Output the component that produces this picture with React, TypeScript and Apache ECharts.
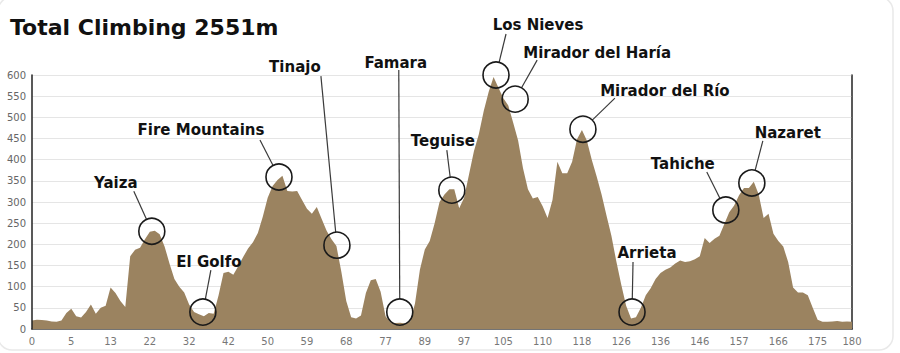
import React, { useEffect, useRef } from "react";
import * as echarts from "echarts";

// Distance tick labels (km) shown under the profile, and the sample index each sits on
const distanceLabels = ["0", "5", "13", "22", "32", "42", "50", "59", "68", "77", "89", "97", "105", "110", "118", "126", "136", "146", "157", "166", "175", "180"];
const distanceLabelIndex = [0, 8, 16, 24, 32, 40, 48, 56, 64, 72, 80, 88, 96, 104, 112, 120, 128, 136, 144, 152, 160, 167];

// Elevation profile (m), one value per sample
const elevation = [
  20, 22, 21, 20, 18, 17, 20, 38, 48, 30,
  27, 40, 58, 36, 50, 55, 98, 85, 66, 52,
  172, 187, 192, 212, 230, 232, 224, 195, 155, 118,
  100, 86, 58, 40, 35, 30, 38, 36, 80, 132,
  135, 128, 148, 170, 190, 205, 227, 265, 310, 338,
  352, 362, 326, 325, 326, 305, 284, 272, 288, 260,
  232, 212, 196, 135, 66, 28, 25, 32, 85, 115,
  118, 88, 30, 16, 14, 15, 13, 18, 60, 140,
  188, 208, 250, 300, 318, 330, 330, 285, 310, 365,
  420, 460, 515, 560, 595, 570, 545, 528, 487, 445,
  380, 330, 308, 312, 290, 262, 305, 395, 368, 368,
  395, 448, 470, 445, 400, 360, 318, 268, 220, 160,
  105, 55, 25, 28, 50, 80, 96, 118, 132, 140,
  145, 155, 162, 158, 160, 165, 172, 215, 203, 213,
  220, 248, 276, 292, 316, 333, 333, 348, 318, 262,
  272, 225, 208, 195, 158, 98, 86, 86, 80, 50,
  22, 17, 17, 18, 19, 17, 18, 17,
];

// Place names and where their circles sit on the profile (sample index, elevation)
const placeNames = ["Yaiza", "El Golfo", "Fire Mountains", "Tinajo", "Famara", "Teguise", "Los Nieves", "Mirador del Haría", "Mirador del Río", "Arrieta", "Tahiche", "Nazaret"];
const placeIndex = [24.4, 34.8, 50.3, 62.1, 74.9, 85.5, 94.5, 98.4, 112.2, 122.2, 141.3, 146.6];
const placeElevation = [231, 40, 359, 198, 40, 328, 600, 543, 472, 40, 281, 345];

// Label layout relative to circle centre (px): label centre offset, leader start offset
const labelOffset: [number, number][] = [
  [-36, -48], [6, -50], [-78, -47], [-42, -178], [-4, -249], [-9, -49],
  [42, -50], [82, -46], [82, -38], [15, -59], [-43, -46], [36, -50],
];
const leaderOffset: [number, number][] = [
  [-18, -40], [8, -42], [-19, -37], [-16, -169], [-1, -242], [-5, -40],
  [10, -41], [22, -39], [32, -31], [1, -50], [-19, -38], [11, -42],
];

const FILL = "#9b8360";
const FONT = "DejaVu Sans";

export default function App() {
  const ref = useRef<HTMLDivElement>(null);

  useEffect(() => {
    if (!ref.current) return;
    const chart = echarts.init(ref.current, undefined, { renderer: "svg" });
    const categories = elevation.map((_, i) => String(i));
    const labelMap: Record<number, string> = {};
    distanceLabelIndex.forEach((idx, k) => (labelMap[idx] = distanceLabels[k]));

    chart.setOption({
      animation: false,
      backgroundColor: "#ffffff",
      title: {
        text: "Total Climbing 2551m",
        left: 10,
        top: 16,
        padding: 0,
        textStyle: { fontFamily: FONT, fontWeight: "bold", fontSize: 22, color: "#111" },
      },
      grid: { left: 32, right: 48, top: 75, bottom: 24, containLabel: false },
      xAxis: {
        type: "category",
        data: categories,
        boundaryGap: false,
        axisLine: { show: true, lineStyle: { color: "#222", width: 1.5 } },
        axisTick: { show: false },
        splitLine: { show: false },
        axisLabel: {
          interval: (idx: number) => labelMap[idx] !== undefined,
          formatter: (_v: string, idx: number) => labelMap[idx] ?? "",
          color: "#777",
          fontSize: 10,
          fontFamily: FONT,
          margin: 7,
        },
      },
      yAxis: [
        {
          type: "value",
          min: 0,
          max: 600,
          interval: 50,
          z: 3,
          axisLine: { show: true, lineStyle: { color: "#222", width: 1.5 } },
          axisTick: { show: false },
          axisLabel: { color: "#666", fontSize: 10, fontFamily: FONT, margin: 6 },
          splitLine: { show: true, lineStyle: { color: "rgba(175,175,175,0.32)", width: 1 } },
        },
        {
          type: "value",
          position: "right",
          min: 0,
          max: 600,
          interval: 50,
          axisLine: { show: true, lineStyle: { color: "#222", width: 1.5 } },
          axisTick: { show: false },
          axisLabel: { show: false },
          splitLine: { show: false },
        },
      ],
      series: [
        {
          type: "line",
          data: elevation,
          showSymbol: false,
          symbol: "none",
          lineStyle: { width: 0 },
          areaStyle: { color: FILL, opacity: 1 },
          silent: true,
        },
      ],
    });

    const n = elevation.length;
    const toPx = (idx: number, v: number) => {
      const a = chart.convertToPixel({ gridIndex: 0 }, [0, v]) as number[];
      const b = chart.convertToPixel({ gridIndex: 0 }, [n - 1, v]) as number[];
      return [a[0] + ((b[0] - a[0]) * idx) / (n - 1), a[1]];
    };
    const R = 13;
    const elements: any[] = [
      {
        type: "rect",
        z: 0,
        shape: { x: -2, y: -3, width: 895, height: 353, r: 14 },
        style: { fill: "rgba(0,0,0,0)", stroke: "#e9e9e9", lineWidth: 1.5 },
        silent: true,
      },
    ];
    placeNames.forEach((name, i) => {
      const [cx, cy] = toPx(placeIndex[i], placeElevation[i]);
      const sx = cx + leaderOffset[i][0];
      const sy = cy + leaderOffset[i][1];
      const dx = sx - cx;
      const dy = sy - cy;
      const len = Math.sqrt(dx * dx + dy * dy) || 1;
      elements.push({
        type: "line",
        z: 10,
        shape: { x1: sx, y1: sy, x2: cx + (dx / len) * R, y2: cy + (dy / len) * R },
        style: { stroke: "#3a3a3a", lineWidth: 1.2 },
        silent: true,
      });
      elements.push({
        type: "circle",
        z: 10,
        shape: { cx, cy, r: R },
        style: { fill: "rgba(0,0,0,0)", stroke: "#1a1a1a", lineWidth: 1.6 },
        silent: true,
      });
      elements.push({
        type: "text",
        z: 10,
        style: {
          text: name,
          x: cx + labelOffset[i][0],
          y: cy + labelOffset[i][1],
          align: "center",
          verticalAlign: "middle",
          fill: "#111",
          font: `bold 15px "${FONT}"`,
        },
        silent: true,
      });
    });
    chart.setOption({ graphic: elements });

    return () => chart.dispose();
  }, []);

  return (
    <div
      ref={ref}
      style={{ position: "fixed", left: 0, top: 0, width: 900, height: 353, background: "#fff" }}
    />
  );
}
